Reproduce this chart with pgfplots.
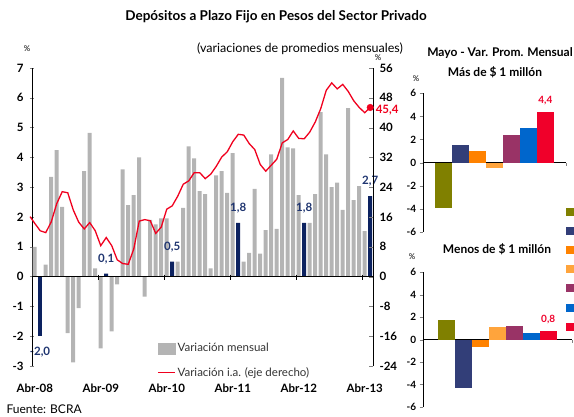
\documentclass[border=0pt]{standalone}
\usepackage{pgfplots}
\pgfplotsset{compat=1.18}
\usepackage{fontspec}
\setmainfont{Lato}

\definecolor{bargray}{HTML}{B4B4B4}
\definecolor{navy}{HTML}{0C2260}
\definecolor{navytxt}{HTML}{1F3570}
\definecolor{linered}{HTML}{F0001E}
\definecolor{colA}{HTML}{808000}
\definecolor{colB}{HTML}{323E78}
\definecolor{colC}{HTML}{FF8200}
\definecolor{colD}{HTML}{FFA43C}
\definecolor{colE}{HTML}{993366}
\definecolor{colF}{HTML}{0066CC}
\definecolor{colG}{HTML}{F0002A}

\newcommand{\tickfont}{\bfseries\fontsize{11.5}{12}\selectfont}
\newcommand{\smallfont}{\bfseries\fontsize{10}{11}\selectfont}

\pgfplotsset{
  panel/.style={
    scale only axis, anchor=south west,
    xmin=0, xmax=1, ymin=-6, ymax=6,
    axis y line*=left, axis x line*=middle,
    xtick={0,1}, xticklabels={}, xtick align=center,
    ytick={-6,-4,...,6}, ytick align=outside, major tick length=3pt,
    yticklabel style={font=\smallfont},
    /pgf/number format/assume math mode=true,
    ybar=0pt, bar width=17pt,
    every axis plot/.append style={draw=none},
  },
  redlabel/.style={nodes near coords={\pgfmathprintnumber[fixed,fixed zerofill,precision=1,use comma,assume math mode=true]{\pgfplotspointmeta}},
    nodes near coords style={font=\smallfont, text=colG, yshift=3pt}},
}

\begin{document}
\begin{tikzpicture}
\useasboundingbox (0pt,0pt) rectangle (574pt,416pt);

% titles
\node[font=\bfseries\fontsize{13.5}{15}\selectfont] at (276pt,399pt) {Depósitos a Plazo Fijo en Pesos del Sector Privado};
\node[font=\fontsize{12.5}{14}\selectfont] at (300pt,367pt) {(variaciones de promedios mensuales)};
\node[font=\fontsize{8}{9}\selectfont] at (27pt,367pt) {\%};
\node[font=\fontsize{8}{9}\selectfont] at (378pt,358pt) {\%};
\node[anchor=west, font=\fontsize{12}{13}\selectfont] at (3pt,7pt) {Fuente: BCRA};
\node[font=\tickfont, text=navytxt] at (40pt,64pt) {-2,0};

% monthly change (left axis)
\begin{axis}[
  at={(32pt,50pt)}, anchor=south west, scale only axis,
  width=341pt, height=298pt,
  xmin=-0.5, xmax=61.5, ymin=-3, ymax=7,
  axis y line*=left, axis x line*=bottom,
  x axis line style={draw=none}, xtick style={draw=none},
  xtick={0,12,24,36,48,60},
  xticklabels={Abr-08,Abr-09,Abr-10,Abr-11,Abr-12,Abr-13},
  xticklabel style={font=\tickfont, yshift=-14pt},
  ytick={-3,...,7}, ytick align=center, major tick length=4pt,
  yticklabel style={font=\tickfont, xshift=-3pt},
  /pgf/number format/assume math mode=true,
  clip=false,
]
\addplot[ybar, bar width=4pt, fill=bargray, draw=none] coordinates {
  (0,1.0) (2,0.4) (3,3.35) (4,4.24) (5,2.34) (6,-1.9) (7,-2.88) (8,-1.06)
  (9,3.54) (10,4.82) (11,0.28) (12,-2.41) (14,-1.84) (15,-0.26) (16,3.6)
  (17,2.4) (18,2.73) (19,4.0) (20,-0.67) (21,1.9) (22,1.75) (23,1.95) (24,1.95)
  (26,0.5) (27,2.31) (28,4.37) (29,3.97) (30,2.87) (31,2.77) (32,0.28) (33,3.4)
  (34,3.54) (35,2.81) (36,4.14) (38,0.5) (39,0.8) (40,2.94) (41,0.77) (42,1.56)
  (43,4.1) (44,1.6) (45,6.67) (46,4.34) (47,4.3) (48,2.73) (50,1.8) (51,2.77)
  (52,5.52) (53,4.1) (54,3.0) (55,3.15) (56,2.24) (57,5.65) (58,2.57) (59,3.04)
  (60,1.53)
};
% May values
\addplot[ybar, bar width=4pt, fill=navy, draw=none] coordinates {(1,-2.0)};
\addplot[ybar, bar width=4pt, fill=navy, draw=none,
  nodes near coords={\pgfmathprintnumber[fixed,fixed zerofill,precision=1,use comma,assume math mode=true]{\pgfplotspointmeta}},
  nodes near coords style={font=\tickfont, text=navytxt, anchor=south, yshift=6pt}]
  coordinates {(13,0.1) (25,0.5) (37,1.8) (49,1.8) (61,2.7)};
\draw (axis cs:-0.5,0) -- (axis cs:61.5,0);
\pgfplotsinvokeforeach{11.5,23.5,35.5,47.5,59.5}{
  \draw (axis cs:#1,0) ++(0pt,2pt) -- ++(0pt,-5pt);
}
\end{axis}

% year-on-year change (right axis)
\begin{axis}[
  at={(32pt,50pt)}, anchor=south west, scale only axis,
  width=341pt, height=298pt,
  xmin=-0.5, xmax=61.5, ymin=-24, ymax=56,
  axis y line*=right, axis x line=none,
  ytick={-24,-16,...,56}, ytick align=inside, major tick length=4pt,
  yticklabel style={font=\tickfont, xshift=3pt},
  /pgf/number format/assume math mode=true,
  clip=false,
  legend style={at={(0.367,-0.047)}, anchor=south west, draw=none, fill=none,
    font=\fontsize{11.5}{13}\selectfont, text=black!80, row sep=10pt,
    inner sep=0pt, cells={anchor=west}},
]
\addlegendimage{legend image code/.code={\fill[bargray] (0pt,-5.5pt) rectangle (17pt,5.5pt);}}
\addlegendentry{Variación mensual}
\addplot[linered, line width=1.3pt, mark=none,
  legend image code/.code={\draw[linered, line width=1.3pt] (0pt,0pt) -- (17pt,0pt);}]
  coordinates {
  (-0.85,16.1) (0,14.3) (1,12.3) (2,11.8) (3,14.7) (4,19.6) (5,22.8) (6,22.5)
  (7,17.9) (8,14.6) (9,12.8) (10,14.5) (11,12.3) (12,8.3) (13,10.5) (14,8.3)
  (15,4.5) (16,3.5) (17,3.3) (18,7.4) (19,14.9) (20,15.3) (21,15.0) (22,11.6)
  (23,13.3) (24,18.1) (25,19.0) (26,21.6) (27,24.8) (28,25.7) (29,27.9) (30,27.9)
  (31,26.3) (32,27.5) (33,29.6) (34,32.1) (35,33.5) (36,36.2) (37,38.2) (38,38.0)
  (39,35.7) (40,34.1) (41,30.1) (42,28.3) (43,29.9) (44,31.5) (45,35.9) (46,36.8)
  (47,39.1) (48,37.1) (49,37.0) (50,38.8) (51,41.5) (52,45.1) (53,50.0) (54,52.0)
  (55,50.4) (56,51.6) (57,49.7) (58,47.2) (59,45.4) (60,44.0) (61,45.4)
};
\addlegendentry{Variación i.a. (eje derecho)}
\addplot[linered, only marks, mark=*, mark size=3.3pt, forget plot,
  nodes near coords={\pgfmathprintnumber[fixed,fixed zerofill,precision=1,use comma,assume math mode=true]{\pgfplotspointmeta}},
  nodes near coords style={font=\tickfont, text=linered, anchor=west, xshift=2pt, yshift=-3pt}]
  coordinates {(61,45.4)};
\end{axis}

% right panels
\node[font=\bfseries\fontsize{12}{13}\selectfont] at (500pt,363pt) {Mayo - Var. Prom. Mensual};
\node[font=\bfseries\fontsize{12}{13}\selectfont] at (495pt,344pt) {Más de \$ 1 millón};
\node[font=\bfseries\fontsize{12}{13}\selectfont] at (497pt,167pt) {Menos de \$ 1 millón};
\node[font=\fontsize{8}{9}\selectfont] at (416pt,337pt) {\%};
\node[font=\fontsize{8}{9}\selectfont] at (412pt,159pt) {\%};

\begin{axis}[panel, at={(422.7pt,184pt)}, width=143.3pt, height=138.7pt]
\addplot[fill=colA] coordinates {(0.5,-3.9)};
\addplot[fill=colB] coordinates {(0.5,1.53)};
\addplot[fill=colC] coordinates {(0.5,1.0)};
\addplot[fill=colD] coordinates {(0.5,-0.43)};
\addplot[fill=colE] coordinates {(0.5,2.39)};
\addplot[fill=colF] coordinates {(0.5,3.0)};
\addplot[fill=colG, redlabel] coordinates {(0.5,4.4)};
\end{axis}

\begin{axis}[panel, at={(422.7pt,9pt)}, width=149pt, height=134.7pt]
\addplot[fill=colA] coordinates {(0.5,1.73)};
\addplot[fill=colB] coordinates {(0.5,-4.3)};
\addplot[fill=colC] coordinates {(0.5,-0.65)};
\addplot[fill=colD] coordinates {(0.5,1.1)};
\addplot[fill=colE] coordinates {(0.5,1.19)};
\addplot[fill=colF] coordinates {(0.5,0.57)};
\addplot[fill=colG, redlabel] coordinates {(0.5,0.8)};
\end{axis}

% legend swatches of the panels (their texts lie outside the frame)
\foreach \c [count=\i from 0] in {colA,colB,colC,colD,colE,colF,colG}
  \fill[\c] (565.7pt,{416pt-216pt-19.1pt*\i}) rectangle (580pt,{416pt-208pt-19.1pt*\i});
\end{tikzpicture}
\end{document}
